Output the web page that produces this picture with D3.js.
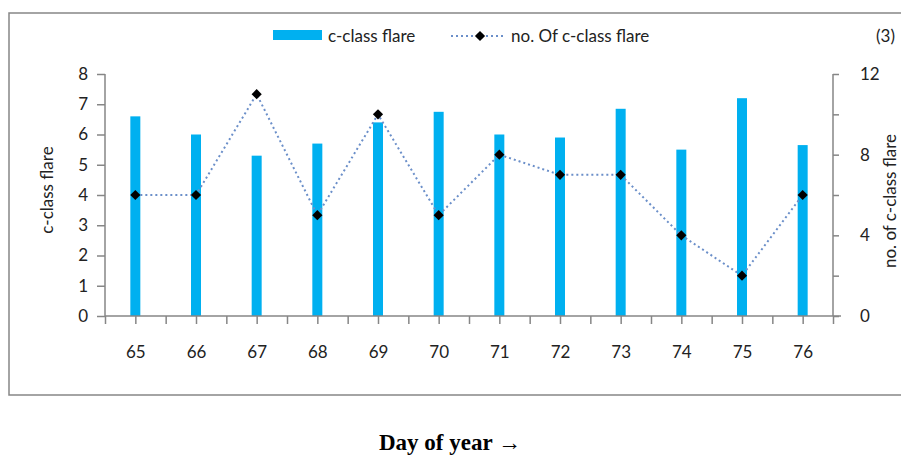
<!DOCTYPE html>
<html>
<head>
<meta charset="utf-8">
<script src="https://cdn.jsdelivr.net/npm/d3@7"></script>
<style>
  body { margin: 0; background: #fff; }
  svg text { font-family: Lato, "Open Sans", sans-serif; fill: #222; }
</style>
</head>
<body>
<svg id="chart" width="901" height="459"></svg>
<script>
// data
const days = [65, 66, 67, 68, 69, 70, 71, 72, 73, 74, 75, 76];
const flareValues = [6.6, 6.0, 5.3, 5.7, 6.4, 6.75, 6.0, 5.9, 6.85, 5.5, 7.2, 5.65];
const flareCounts = [6, 6, 11, 5, 10, 5, 8, 7, 7, 4, 2, 6];
const leftTicks = [0, 1, 2, 3, 4, 5, 6, 7, 8];
const rightTicks = [0, 2, 4, 6, 8, 10, 12];
const rightLabels = [0, 4, 8, 12];

const svg = d3.select('#chart');
const margin = { top: 74, left: 105, right: 833, bottom: 316 };
const axisColor = '#868686';
const barColor = '#00b0f0';
const lineColor = '#6b8fc9';
const fontSize = 17;

// outer frame
svg.append('rect')
    .attr('x', 9).attr('y', 13)
    .attr('width', 900).attr('height', 382)
    .attr('fill', 'none')
    .attr('stroke', axisColor)
    .attr('stroke-width', 1.5);

const x = d3.scaleBand()
    .domain(days)
    .range([margin.left, margin.right]);

const yLeft = d3.scaleLinear()
    .domain([0, 8])
    .range([margin.bottom, margin.top]);

const yRight = d3.scaleLinear()
    .domain([0, 12])
    .range([margin.bottom, margin.top]);

// bars
svg.append('g')
    .selectAll('rect')
    .data(days)
    .join('rect')
    .attr('x', d => x(d) + x.bandwidth() / 2 - 5)
    .attr('width', 10)
    .attr('y', (d, i) => yLeft(flareValues[i]))
    .attr('height', (d, i) => yLeft(0) - yLeft(flareValues[i]))
    .attr('fill', barColor);

// left axis
const leftAxis = svg.append('g')
    .attr('transform', `translate(${margin.left},0)`)
    .call(d3.axisLeft(yLeft).tickValues(leftTicks).tickSize(8).tickPadding(9));

// right axis
const rightAxis = svg.append('g')
    .attr('transform', `translate(${margin.right},0)`)
    .call(d3.axisRight(yRight).tickValues(rightTicks).tickSize(6).tickPadding(21)
        .tickFormat(d => rightLabels.includes(d) ? d : ''));

// bottom axis with ticks at band edges and centres
const xTickScale = d3.scaleLinear().domain([0, days.length]).range([margin.left, margin.right]);
const xAxis = svg.append('g')
    .attr('transform', `translate(0,${margin.bottom})`)
    .call(d3.axisBottom(xTickScale).tickValues(d3.range(0, days.length + 0.5, 0.5))
        .tickSize(8).tickPadding(22)
        .tickFormat(d => Number.isInteger(d) ? '' : days[Math.floor(d)]));

[leftAxis, rightAxis, xAxis].forEach(g => {
    g.select('.domain').attr('stroke', axisColor).attr('stroke-width', 1.5);
    g.selectAll('.tick line').attr('stroke', axisColor).attr('stroke-width', 1.5);
    g.selectAll('.tick text').attr('font-size', fontSize).attr('fill', '#222')
        .attr('font-family', 'Lato, "Open Sans", sans-serif');
});
rightAxis.select('.domain').attr('d', `M0,${margin.bottom}V${margin.top}`);
leftAxis.select('.domain').attr('d', `M0,${margin.bottom}V${margin.top}`);
xAxis.select('.domain').attr('d', `M${margin.left},0H${margin.right + 8}`);

// dotted line
const line = d3.line()
    .x(d => x(d) + x.bandwidth() / 2)
    .y((d, i) => yRight(flareCounts[i]));

svg.append('path')
    .datum(days)
    .attr('d', line)
    .attr('fill', 'none')
    .attr('stroke', lineColor)
    .attr('stroke-width', 2)
    .attr('stroke-dasharray', '2,3');

// square turned 45 degrees, like the Excel diamond marker
const diamond = d3.symbol().type(d3.symbolSquare).size(52);
svg.append('g')
    .selectAll('path')
    .data(days)
    .join('path')
    .attr('d', diamond)
    .attr('transform', (d, i) => `translate(${x(d) + x.bandwidth() / 2},${yRight(flareCounts[i])}) rotate(45)`)
    .attr('fill', '#000');

// axis titles
svg.append('text')
    .attr('transform', 'translate(53,190) rotate(-90)')
    .attr('text-anchor', 'middle')
    .attr('font-size', fontSize)
    .text('c-class flare');

svg.append('text')
    .attr('transform', 'translate(896,201) rotate(-90)')
    .attr('text-anchor', 'middle')
    .attr('font-size', fontSize)
    .text('no. of c-class flare');

// legend
svg.append('rect')
    .attr('x', 273).attr('y', 30)
    .attr('width', 49).attr('height', 10)
    .attr('fill', barColor);
svg.append('text')
    .attr('x', 328).attr('y', 42)
    .attr('font-size', fontSize)
    .text('c-class flare');

svg.append('line')
    .attr('x1', 451).attr('x2', 503)
    .attr('y1', 36).attr('y2', 36)
    .attr('stroke', lineColor)
    .attr('stroke-width', 2)
    .attr('stroke-dasharray', '2,3');
svg.append('path')
    .attr('d', diamond)
    .attr('transform', 'translate(480,36) rotate(45)')
    .attr('fill', '#000');
svg.append('text')
    .attr('x', 511).attr('y', 42)
    .attr('font-size', fontSize)
    .text('no. Of c-class flare');

svg.append('text')
    .attr('x', 895).attr('y', 42)
    .attr('text-anchor', 'end')
    .attr('font-size', fontSize)
    .text('(3)');

// x title below frame
svg.append('text')
    .attr('x', 450).attr('y', 450)
    .attr('text-anchor', 'middle')
    .attr('font-weight', 'bold')
    .attr('font-size', 23)
    .style('font-family', '"Liberation Serif", "DejaVu Serif", serif')
    .style('fill', '#000')
    .text('Day of year \u2192');
</script>
</body>
</html>
